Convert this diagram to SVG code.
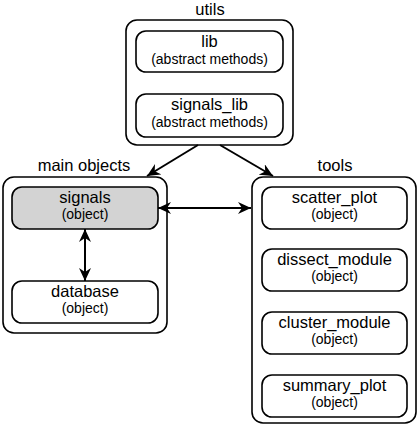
<svg xmlns="http://www.w3.org/2000/svg" width="419" height="428" viewBox="0 0 419 428">
<style>
.bg{fill:#fff}
.outer{fill:#fff;stroke:#000;stroke-width:1.6}
.inner{fill:#fff;stroke:#000;stroke-width:1.6}
.gray{fill:#d3d3d3}
.t{font-family:"Liberation Sans",Arial,sans-serif;font-size:16.5px;text-anchor:middle;fill:#000}
.s{font-family:"Liberation Sans",Arial,sans-serif;font-size:14px;text-anchor:middle;fill:#000}
.c{fill:none;stroke:#000;stroke-width:2}
</style>
<defs>
<marker id="ah" markerUnits="userSpaceOnUse" markerWidth="14" markerHeight="12" refX="13" refY="6" orient="auto">
<path d="M0,0 L13,6 L0,12 L4,6 Z" fill="#000"/>
</marker>
<marker id="as" markerUnits="userSpaceOnUse" markerWidth="14" markerHeight="12" refX="1" refY="6" orient="auto">
<path d="M14,0 L1,6 L14,12 L10,6 Z" fill="#000"/>
</marker>
</defs>
<rect class="bg" width="419" height="428"/>
<g id="utils">
<text class="t" x="210" y="15">utils</text>
<rect class="outer" x="126" y="20" width="167" height="125" rx="11"/>
<g id="lib">
<rect class="inner" x="136" y="31" width="147" height="41" rx="10"/>
<text class="t" x="209.5" y="47">lib</text>
<text class="s" x="209.5" y="64">(abstract methods)</text>
</g>
<g id="signals_lib">
<rect class="inner" x="136" y="94" width="147" height="43" rx="10"/>
<text class="t" x="209.5" y="110">signals_lib</text>
<text class="s" x="209.5" y="127">(abstract methods)</text>
</g>
</g>
<g id="main_objects">
<text class="t" x="84" y="171">main objects</text>
<rect class="outer" x="3" y="177" width="164" height="156" rx="11"/>
<g id="signals">
<rect class="inner gray" x="12" y="187" width="146" height="42" rx="10"/>
<text class="t" x="85" y="203">signals</text>
<text class="s" x="85" y="219">(object)</text>
</g>
<g id="database">
<rect class="inner" x="12" y="281" width="146" height="42" rx="10"/>
<text class="t" x="85" y="297">database</text>
<text class="s" x="85" y="313">(object)</text>
</g>
</g>
<g id="tools">
<text class="t" x="335" y="171">tools</text>
<rect class="outer" x="252" y="177" width="164" height="246" rx="11"/>
<g id="scatter_plot">
<rect class="inner" x="262" y="187" width="145" height="42" rx="10"/>
<text class="t" x="334.5" y="203">scatter_plot</text>
<text class="s" x="334.5" y="219">(object)</text>
</g>
<g id="dissect_module">
<rect class="inner" x="262" y="249" width="145" height="42" rx="10"/>
<text class="t" x="334.5" y="265">dissect_module</text>
<text class="s" x="334.5" y="281">(object)</text>
</g>
<g id="cluster_module">
<rect class="inner" x="262" y="312" width="145" height="42" rx="10"/>
<text class="t" x="334.5" y="328">cluster_module</text>
<text class="s" x="334.5" y="344">(object)</text>
</g>
<g id="summary_plot">
<rect class="inner" x="262" y="375" width="145" height="42" rx="10"/>
<text class="t" x="334.5" y="391">summary_plot</text>
<text class="s" x="334.5" y="407">(object)</text>
</g>
</g>
<g id="connectors">
<line class="c" x1="198" y1="145" x2="147" y2="176" marker-end="url(#ah)"/>
<line class="c" x1="220" y1="145" x2="273" y2="176" marker-end="url(#ah)"/>
<line class="c" x1="158" y1="208" x2="251" y2="208" marker-start="url(#as)" marker-end="url(#ah)"/>
<line class="c" x1="85" y1="229" x2="85" y2="281" marker-start="url(#as)" marker-end="url(#ah)"/>
</g>
</svg>
